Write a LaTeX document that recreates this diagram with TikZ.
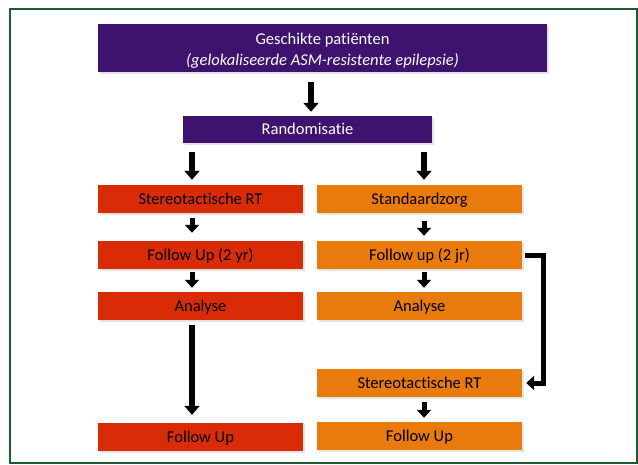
\documentclass[tikz,border=0pt]{standalone}
\usepackage{fontspec}
\setmainfont{Carlito}[Ligatures={NoCommon}]
\usetikzlibrary{arrows.meta,shadows}
\definecolor{frameg}{HTML}{1F5B32}
\definecolor{purp}{HTML}{3E136F}
\definecolor{redb}{HTML}{D92B06}
\definecolor{orab}{HTML}{E97A0C}
\begin{document}
\begin{tikzpicture}[x=1pt,y=-1pt,
  box/.style={rectangle, inner sep=0pt, anchor=center, font=\fontsize{16.5}{20}\selectfont,
    drop shadow={shadow xshift=1.5pt,shadow yshift=-1.5pt,opacity=.22,fill=gray}},
  pbox/.style={box, fill=purp, text=white},
  lbl/.style={text height=13pt, text depth=2.4pt},
  rbox/.style={box, lbl, fill=redb, text=black, minimum width=205pt, minimum height=28pt},
  obox/.style={box, lbl, fill=orab, text=black, minimum width=205pt, minimum height=28pt},
  bigarrow/.style={draw=black, line width=6pt, -{Triangle[width=15pt,length=9pt]}},
  smallarrow/.style={draw=black, line width=5pt, -{Triangle[width=14pt,length=8pt]}}
]
\useasboundingbox (0,0) rectangle (638,464);
\fill[white] (0,0) rectangle (638,464);
\draw[frameg, line width=2pt] (10,9) rectangle (637,463);

\node[pbox, minimum width=449pt, minimum height=48pt] (top) at (322.5,48) {};
\node[align=center, text=white, inner sep=0pt, font=\fontsize{16.5}{20}\selectfont] (toptext) at (322.5,50.5)
  {Geschikte patiënten\\[1pt] \itshape (gelokaliseerde ASM-resistente epilepsie)};
\node[pbox, lbl, minimum width=249pt, minimum height=27pt] (rand) at (307.5,129.5) {Randomisatie};

\node[rbox] (l1) at (200.5,199) {Stereotactische RT};
\node[rbox] (l2) at (200.5,255) {Follow Up (2 yr)};
\node[rbox] (l3) at (200.5,306) {Analyse};
\node[rbox] (l4) at (200.5,437) {Follow Up};

\node[obox] (r1) at (419.5,199) {Standaardzorg};
\node[obox] (r2) at (419.5,255) {Follow up (2 jr)};
\node[obox] (r3) at (419.5,306) {Analyse};
\node[obox] (r4) at (419.5,383) {Stereotactische RT};
\node[obox] (r5) at (419.5,436) {Follow Up};

\coordinate (xt) at (311,0);
\coordinate (xl) at (192,0);
\coordinate (xr) at (424,0);
\coordinate (xb) at (543,0);

\draw[bigarrow, shorten <=10pt, shorten >=4pt] (top.south -| xt) -- (rand.north -| xt);
\draw[bigarrow, shorten <=9pt, shorten >=5pt] (rand.south -| xl) -- (l1.north -| xl);
\draw[bigarrow, shorten <=9pt, shorten >=5pt] (rand.south -| xr) -- (r1.north -| xr);

\draw[smallarrow, shorten <=5pt, shorten >=8pt] (l1.south -| xl) -- (l2.north -| xl);
\draw[smallarrow, shorten <=8pt, shorten >=5pt] (r1.south -| xr) -- (r2.north -| xr);
\draw[smallarrow, shorten <=3pt, shorten >=4pt] (l2.south -| xl) -- (l3.north -| xl);
\draw[smallarrow, shorten <=3pt, shorten >=4pt] (r2.south -| xr) -- (r3.north -| xr);
\draw[bigarrow, shorten <=5pt, shorten >=8pt] (l3.south -| xl) -- (l4.north -| xl);
\draw[smallarrow, shorten <=5pt, shorten >=4pt] (r4.south -| xr) -- (r5.north -| xr);

\draw[line width=5pt, line join=miter, -{Triangle[width=14pt,length=8pt]}]
  ([xshift=3pt]r2.east) -- (r2.east -| xb) -- (r4.east -| xb) -- ([xshift=4pt]r4.east);
\end{tikzpicture}
\end{document}
